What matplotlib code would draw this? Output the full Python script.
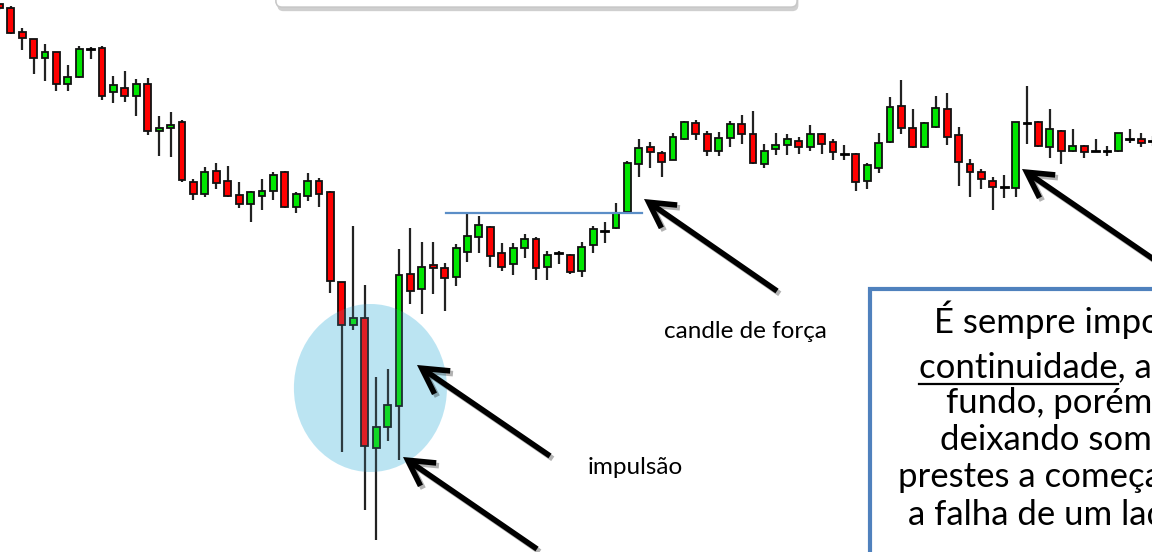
import matplotlib
matplotlib.use("Agg")
import matplotlib.pyplot as plt
import matplotlib.patheffects as pe
from matplotlib.patches import Rectangle, Ellipse, FancyArrowPatch, FancyBboxPatch

plt.rcParams['font.family'] = ['Lato', 'DejaVu Sans']

# OHLC (chart units, higher = up)
opens = [596, 592, 568, 561, 542, 548, 516, 523, 551, 552, 508, 512, 504, 516, 469, 472,
         478, 418, 406, 429, 419, 405, 396, 404, 409, 428, 393, 404, 419, 408, 318, 275,
         282, 152, 173, 194, 326, 311, 335, 332, 323, 348, 363, 373, 347, 336, 352, 361,
         333, 347, 345, 329, 355, 369, 372, 388, 436, 453, 447, 440, 461, 477, 466, 449,
         462, 476, 466, 436, 451, 455, 459, 453, 466, 458, 446, 446, 419, 432, 458, 494,
         472, 453, 473, 491, 465, 436, 428, 419, 413, 412, 477, 478, 453, 469, 449, 454,
         449, 449, 449, 461, 461, 459]
highs = [597, 594, 572, 561, 556, 548, 535, 554, 553, 554, 524, 529, 521, 522, 484, 488,
         480, 421, 433, 437, 434, 418, 409, 421, 428, 429, 408, 427, 422, 409, 318, 374,
         315, 223, 231, 351, 372, 358, 358, 337, 356, 386, 384, 374, 357, 357, 366, 363,
         349, 349, 346, 358, 374, 378, 397, 439, 461, 458, 449, 467, 479, 480, 469, 468,
         479, 485, 489, 456, 467, 466, 463, 475, 467, 461, 455, 447, 437, 467, 503, 520,
         491, 478, 504, 507, 473, 441, 431, 423, 425, 478, 514, 479, 491, 470, 471, 455,
         461, 454, 467, 471, 467, 464]
lows = [590, 566, 550, 526, 519, 509, 509, 522, 541, 500, 497, 498, 484, 465, 444, 443,
        418, 400, 403, 411, 403, 392, 378, 390, 400, 392, 387, 399, 393, 307, 148, 270,
        90, 60, 159, 140, 296, 286, 306, 289, 314, 338, 347, 333, 329, 325, 342, 320,
        320, 336, 326, 323, 347, 357, 371, 387, 423, 432, 423, 440, 460, 460, 444, 444,
        453, 456, 436, 432, 445, 445, 446, 449, 446, 440, 440, 409, 411, 427, 457, 466,
        452, 452, 472, 455, 414, 403, 411, 390, 402, 403, 456, 453, 442, 436, 448, 442,
        448, 444, 448, 457, 453, 454]
closes = [592, 567, 562, 542, 548, 516, 523, 551, 551, 504, 515, 504, 516, 469, 472, 475,
          420, 406, 428, 417, 404, 396, 408, 409, 425, 393, 406, 419, 406, 319, 275, 282,
          154, 173, 195, 325, 309, 333, 332, 322, 352, 364, 375, 344, 333, 352, 361, 332,
          345, 347, 328, 353, 371, 369, 387, 437, 452, 448, 438, 463, 478, 466, 449, 462,
          476, 466, 437, 449, 455, 461, 453, 466, 456, 448, 446, 418, 435, 457, 493, 472,
          453, 477, 492, 463, 438, 428, 421, 413, 413, 478, 477, 454, 471, 449, 454, 448,
          449, 449, 467, 461, 457, 459]

resistance = 387
resistance_span = (39.1, 56.3)
impulse_zone = (32.5, 212)

W, H = 1152, 552
fig = plt.figure(figsize=(W / 100, H / 100), dpi=100)
ax = fig.add_axes([0, 0, 1, 1])
ax.set_xlim(0.063, 100.94)
ax.set_ylim(48, 600)
ax.axis('off')

# blue zone around the bottom: light fill behind, faint tint on top
ax.add_patch(Ellipse(impulse_zone, 13.4, 168, facecolor='#d4f6ff', edgecolor='none', zorder=1))
ax.add_patch(Ellipse(impulse_zone, 13.4, 168, facecolor='#5aa0c0', alpha=0.2,
                     edgecolor='none', zorder=5))

body_w = 0.6
for i, (o, h, l, c) in enumerate(zip(opens, highs, lows, closes)):
    ax.plot([i, i], [l, h], color='#222222', lw=1.6, zorder=2, solid_capstyle='butt')
    if o == c:
        ax.plot([i - body_w / 2, i + body_w / 2], [o, o], color='black', lw=2, zorder=3)
        continue
    col = '#00e600' if c > o else '#ff0000'
    ax.add_patch(Rectangle((i - body_w / 2, min(o, c)), body_w, abs(c - o),
                           facecolor=col, edgecolor='#111111', lw=1.3, zorder=3))

ax.plot(resistance_span, [resistance, resistance], color='#5b8ec7', lw=1.6, zorder=4)

# overlay in pixel coords for the slide annotations
ov = fig.add_axes([0, 0, 1, 1])
ov.set_xlim(0, W)
ov.set_ylim(H, 0)
ov.axis('off')
ov.patch.set_alpha(0)

top_box = FancyBboxPatch((276, -40), 521, 47, boxstyle='round,pad=0,rounding_size=6',
                         facecolor='white', edgecolor='#c8c8c8', lw=1.0,
                         path_effects=[pe.withSimplePatchShadow(offset=(1, -3), alpha=0.35,
                                                                shadow_rgbFace='#777777'),
                                       pe.Normal()])
ov.add_patch(top_box)

arrows = [((777, 291), (644, 199)),
          ((550, 456), (417, 365)),
          ((537, 549), (403, 457)),
          ((1165, 267), (1022, 169))]
for tail, tip in arrows:
    ov.add_patch(FancyArrowPatch(tail, tip, arrowstyle='->,head_length=18,head_width=10',
                                 color='black', lw=4.0, shrinkA=0, shrinkB=0,
                                 capstyle='butt', joinstyle='miter',
                                 path_effects=[pe.SimpleLineShadow(offset=(2, -2), alpha=0.3),
                                               pe.Normal()]))

ov.text(745, 331, 'candle de força', ha='center', va='center', fontsize=17.5, color='black')
ov.text(635, 468, 'impulsão', ha='center', va='center', fontsize=17.5, color='black')

ov.add_patch(Rectangle((870, 289), 400, 400, facecolor='white', edgecolor='#4f81bd', lw=3))

box_lines = [('É sempre impo', 934, 333),
             ('continuidade, a', 919, 377),
             ('fundo, porém', 946, 413),
             ('deixando som', 940, 450),
             ('prestes a começa', 898, 487),
             ('a falha de um lad', 908, 525)]
for txt, x, y in box_lines:
    ov.text(x, y, txt, ha='left', va='baseline', fontsize=25, color='black')

# underline for "continuidade"
fig.canvas.draw()
tmp = ov.text(919, 377, 'continuidade', ha='left', va='baseline', fontsize=25, alpha=0)
bb = tmp.get_window_extent(fig.canvas.get_renderer())
ov.plot([919, 919 + bb.width], [384, 384], color='black', lw=1.6)

fig.savefig('out.png', dpi=100)
